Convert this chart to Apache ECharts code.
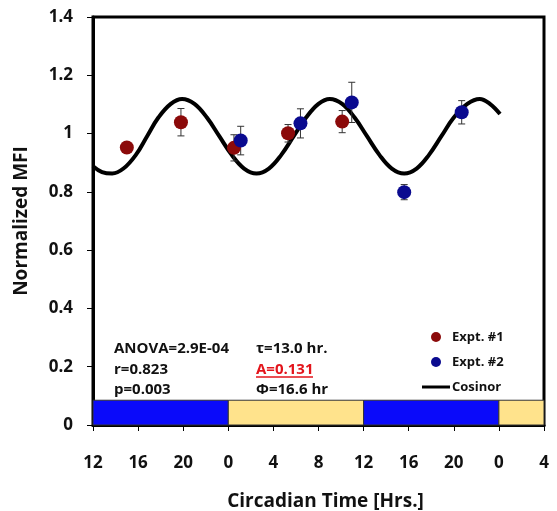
<!DOCTYPE html>
<html><head><meta charset="utf-8">
<script src="https://cdn.jsdelivr.net/npm/echarts@6/dist/echarts.min.js"></script>
<style>html,body{margin:0;padding:0;background:#fff}#c{width:557px;height:511px}</style>
</head><body><div id="c"></div>
<script>
// ---- data ----
const expt1X = [15.0, 19.8, 24.5, 29.3, 34.1];
const expt1Y = [0.952, 1.039, 0.951, 1.001, 1.041];
const expt1Err = [0.015, 0.047, 0.045, 0.03, 0.038];
const expt2X = [25.1, 30.4, 34.95, 39.6, 44.7];
const expt2Y = [0.976, 1.035, 1.107, 0.799, 1.073];
const expt2Err = [0.049, 0.05, 0.069, 0.026, 0.04];
const cosX = [12.0,12.8,13.7,14.7,15.8,16.8,17.8,18.9,19.9,21.0,22.1,23.2,24.3,25.4,26.5,27.6,28.7,29.8,30.9,32.0,33.0,34.1,35.2,36.3,37.4,38.5,39.6,40.7,41.8,42.9,44.0,45.2,46.3,47.2,48.1];
const cosY = [0.888,0.868,0.863,0.880,0.927,0.991,1.055,1.102,1.119,1.102,1.055,0.991,0.927,0.880,0.863,0.880,0.927,0.991,1.055,1.102,1.119,1.102,1.055,0.991,0.927,0.880,0.863,0.880,0.927,0.991,1.055,1.102,1.119,1.102,1.067];
const lightStart = [12, 24, 36, 48];
const lightEnd = [24, 36, 48, 52];
const lightPhase = ['dark', 'light', 'dark', 'light'];
const lightBarHeight = 0.085;
const stats1 = ['ANOVA=2.9E-04', 'r=0.823', 'p=0.003'];
const stats2 = ['\u03c4=13.0 hr.', 'A=0.131', '\u03a6=16.6 hr'];

const FONT = '"Open Sans", "Noto Sans", sans-serif';
const phaseColor = {dark: '#0a0afa', light: '#ffe38c'};

const chart = echarts.init(document.getElementById('c'));
function errRender(color) {
  return function (params, api) {
    const x = api.value(0), y = api.value(1), e = api.value(2);
    const t = api.coord([x, y + e]), b = api.coord([x, y - e]);
    const w = 3.5;
    const st = {stroke: color, lineWidth: 1};
    return {type: 'group', children: [
      {type: 'line', shape: {x1: t[0], y1: t[1], x2: b[0], y2: b[1]}, style: st},
      {type: 'line', shape: {x1: t[0] - w, y1: t[1], x2: t[0] + w, y2: t[1]}, style: st},
      {type: 'line', shape: {x1: b[0] - w, y1: b[1], x2: b[0] + w, y2: b[1]}, style: st}
    ]};
  };
}
const markData = lightStart.map((s, i) => [
  {xAxis: s, yAxis: 0, itemStyle: {color: phaseColor[lightPhase[i]], borderColor: '#333', borderWidth: 1}},
  {xAxis: lightEnd[i], yAxis: lightBarHeight}
]);
const lineY = [349, 369.5, 390];
const textEls = [];
stats1.forEach((t, i) => textEls.push({type: 'text', x: 114, y: lineY[i],
  style: {text: t, font: 'bold 15px ' + FONT, fill: '#111', textVerticalAlign: 'middle'}}));
stats2.forEach((t, i) => textEls.push({type: 'text', x: 256, y: lineY[i],
  style: {text: t, font: 'bold 15px ' + FONT, fill: i === 1 ? '#e3141b' : '#111', textVerticalAlign: 'middle'}}));
textEls.push({type: 'line', shape: {x1: 256, y1: 377, x2: 313, y2: 377}, style: {stroke: '#e3141b', lineWidth: 1.5}});

chart.setOption({
  animation: false,
  grid: {left: 93, right: 13, top: 17, bottom: 86, show: true, borderColor: '#000', borderWidth: 3,
    backgroundColor: 'transparent', containLabel: false, outerBoundsMode: 'none'},
  xAxis: {
    type: 'value', min: 12, max: 52, interval: 4,
    axisLine: {show: true, onZero: false, lineStyle: {color: '#000', width: 3}},
    axisTick: {show: true, inside: false, length: 6, lineStyle: {color: '#000', width: 1}},
    axisLabel: {margin: 30, color: '#111', fontFamily: FONT, fontWeight: 'bold', fontSize: 17,
      formatter: v => String(((v % 24) + 24) % 24)},
    splitLine: {show: false},
    name: 'Circadian Time [Hrs.]', nameLocation: 'middle', nameGap: 67,
    nameTextStyle: {color: '#111', fontFamily: FONT, fontWeight: 'bold', fontSize: 19, padding: [0, 0, 0, 14]}
  },
  yAxis: {
    type: 'value', min: 0, max: 1.4, interval: 0.2,
    axisLine: {show: true, lineStyle: {color: '#000', width: 3}},
    axisTick: {show: true, length: 6, lineStyle: {color: '#000', width: 1}},
    axisLabel: {margin: 20, color: '#111', fontFamily: FONT, fontWeight: 'bold', fontSize: 17,
      formatter: v => (Math.abs(v) < 1e-9 ? '0' : Math.abs(v - 1) < 1e-9 ? '1' : v.toFixed(1))},
    splitLine: {show: false},
    name: 'Normalized MFI', nameLocation: 'middle', nameGap: 62,
    nameTextStyle: {color: '#111', fontFamily: FONT, fontWeight: 'bold', fontSize: 19}
  },
  legend: {
    orient: 'vertical', left: 417, top: 325, itemWidth: 28, itemHeight: 10, itemGap: 11,
    textStyle: {fontFamily: FONT, fontWeight: 'bold', fontSize: 13, color: '#111', lineHeight: 14, padding: [0, 0, 0, -3]},
    data: [{name: 'Expt. #1', icon: 'circle'}, {name: 'Expt. #2', icon: 'circle'},
      {name: 'Cosinor', icon: 'path://M0,0 L28,0 L28,3 L0,3 Z', itemStyle: {color: '#000'}}]
  },
  graphic: textEls,
  series: [
    {name: 'bars', type: 'line', data: [], markArea: {silent: true, data: markData}, z: 1},
    {name: 'Cosinor', type: 'line', data: cosX.map((x, i) => [x, cosY[i]]), smooth: 0.4,
      symbol: 'none', lineStyle: {color: '#000', width: 4}, itemStyle: {color: '#000'}, z: 2},
    {name: 'err1', type: 'custom', renderItem: errRender('#333'), data: expt1X.map((x, i) => [x, expt1Y[i], expt1Err[i]]), encode: {x: 0, y: 1}, z: 3},
    {name: 'err2', type: 'custom', renderItem: errRender('#333'), data: expt2X.map((x, i) => [x, expt2Y[i], expt2Err[i]]), encode: {x: 0, y: 1}, z: 3},
    {name: 'Expt. #1', type: 'scatter', data: expt1X.map((x, i) => [x, expt1Y[i]]), symbolSize: 14, itemStyle: {color: '#8b0a0a', opacity: 1}, z: 4},
    {name: 'Expt. #2', type: 'scatter', data: expt2X.map((x, i) => [x, expt2Y[i]]), symbolSize: 14, itemStyle: {color: '#0a0a8f', opacity: 1}, z: 5}
  ]
});
</script></body></html>
